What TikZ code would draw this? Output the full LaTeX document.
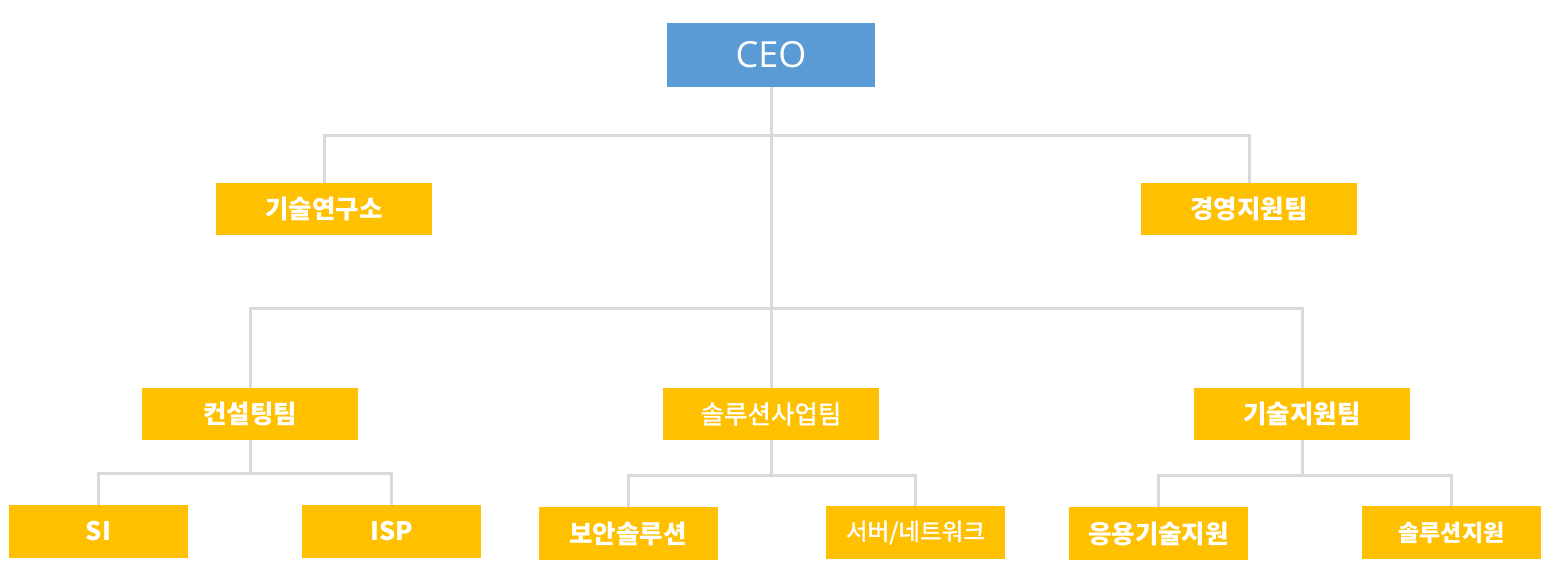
\documentclass[tikz,border=0pt]{standalone}
\usepackage{fontspec}
\usepackage{tikz}
\newfontfamily\krfont{Noto Sans CJK KR}
\newfontfamily\krmidfont{Noto Sans CJK KR}[FakeBold=1.6]
\newfontfamily\ceofont{Open Sans}
\definecolor{ceoblue}{HTML}{5B9BD5}
\definecolor{teamgold}{HTML}{FFC000}
\definecolor{linegray}{HTML}{D9D9D9}
\tikzstyle{ceobox}=[rectangle, fill=ceoblue, text=white, minimum width=208pt, minimum height=64pt,
        inner sep=0pt, font=\ceofont\fontsize{36}{40}\selectfont]
\tikzstyle{team}=[rectangle, fill=teamgold, text=white, minimum width=216pt, minimum height=52pt,
        inner sep=0pt, font=\krfont\bfseries\fontsize{25.5}{30}\selectfont]
\tikzstyle{unit}=[team, minimum width=179pt, minimum height=53pt]
\tikzstyle{thin}=[font=\krmidfont\fontsize{25.5}{30}\selectfont]
\tikzstyle{link}=[draw=linegray, line width=3pt]

\begin{document}
\begin{tikzpicture}[x=1pt, y=-1pt]
\useasboundingbox (0,0) rectangle (1552,570);
% top level
\node [ceobox] (ceo) at (771,55) {CEO};
\node [team] (lab) at (324,209) {기술연구소};
\node [team] (mgmt) at (1249,209) {경영지원팀};
% teams
\node [team] (cons) at (250,414) {컨설팅팀};
\node [team, thin] (sol) at (771,414) {솔루션사업팀};
\node [team] (tech) at (1302,414) {기술지원팀};
% units
\node [unit] (si) at (98.5,531.5) {SI};
\node [unit] (isp) at (391.5,531.5) {ISP};
\node [unit] (sec) at (628,533.5) {보안솔루션};
\node [unit, thin, font=\krmidfont\fontsize{23.5}{28}\selectfont] (net) at (915.5,532.5) {서버/네트워크};
\node [unit] (app) at (1158.5,533.5) {응용기술지원};
\node [unit, font=\krfont\bfseries\fontsize{23}{28}\selectfont] (solsup) at (1451.5,532.5) {솔루션지원};
% branch points
\coordinate (b1) at (771,135);
\coordinate (b2) at (771,308);
\coordinate (b3) at (250,473);
\coordinate (b4) at (771,475);
\coordinate (b5) at (1302,475);
% connectors
\draw [link] (ceo.south) -- (sol.north);
\draw [link] (lab.north) |- (b1) -| (mgmt.north);
\draw [link] (cons.north) |- (b2) -| (tech.north);
\draw [link] (cons.south) -- (b3);
\draw [link] (si.north) |- (b3) -| (isp.north);
\draw [link] (sol.south) -- (b4);
\draw [link] (sec.north) |- (b4) -| (net.north);
\draw [link] (tech.south) -- (b5);
\draw [link] (app.north) |- (b5) -| (solsup.north);
\end{tikzpicture}
\end{document}
